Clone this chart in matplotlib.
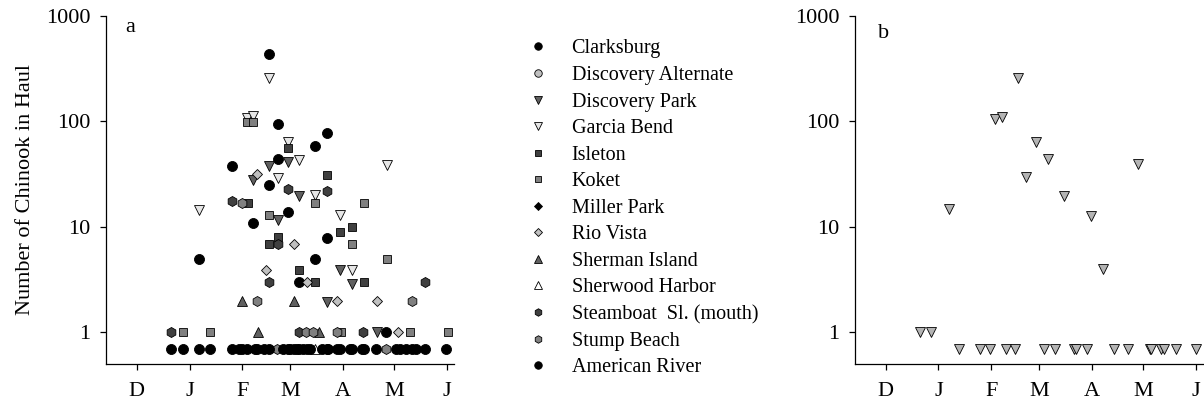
import numpy as np
import matplotlib
matplotlib.use('Agg')
import matplotlib.pyplot as plt
from matplotlib.lines import Line2D

plt.rcParams['font.family'] = ['Liberation Serif', 'DejaVu Serif']

# days counted from 1 December; a zero catch is drawn just under the "1" tick
month_days = [0, 31, 62, 90, 121, 151, 182]
month_labels = ['D', 'J', 'F', 'M', 'A', 'M', 'J']
ZERO_AT = 0.7

# panel a, one pair of arrays per site
clarksburg_d = [77.7, 82.6, 111.4, 104.6, 55.9, 82.6, 77.7, 88.6, 68.5, 111.4, 36.8, 104.6, 95.4, 146.4]
clarksburg_n = [434, 95, 78, 58, 38, 44, 24.7, 13.8, 10.9, 7.9, 5.0, 5.0, 3.0, 1]

disc_alt_d = []
disc_alt_n = []

disc_park_d = [77.7, 88.6, 68.5, 95.4, 82.6, 119.2, 126.4, 111.4, 141]
disc_park_n = [38, 41.5, 27.6, 19.5, 11.7, 3.93, 2.9, 1.94, 1]

garcia_d = [77.7, 64.6, 68.5, 88.6, 95.4, 147, 82.6, 104.6, 36.8, 119.2, 126.4]
garcia_n = [260, 107, 113, 64, 43, 39, 29, 19.9, 14.3, 12.9, 3.93]

isleton_d = [88.6, 111.4, 65, 126.4, 119.2, 82.6, 77.7, 95.4, 104.6, 133.2]
isleton_n = [56, 31, 16.8, 10, 8.9, 8.0, 6.9, 3.93, 3, 3]

koket_d = [64.6, 68.5, 104.6, 133.2, 77.7, 126.4, 147, 27.3, 42.8, 119.6, 160.4, 182.4]
koket_n = [98, 98, 16.8, 16.8, 12.9, 6.9, 5.0, 1, 1, 1, 1, 1]

miller_d = []
miller_n = []

rio_d = [70.5, 92.3, 75.7, 99.7, 117.2, 141, 153.2]
rio_n = [32, 6.9, 3.93, 3, 2, 2, 1]

sherman_d = [61.7, 92.3, 71, 107]
sherman_n = [2, 2, 1, 1]

sherwood_d = [104.6]
sherwood_n = [0]

steamboat_d = [88.6, 111.4, 55.9, 82.6, 77.7, 168.8, 19.9, 95.2, 132.8]
steamboat_n = [22.7, 21.8, 17.6, 6.9, 3.0, 3, 1, 1, 1]

stump_d = [61.7, 70.5, 161.6, 99.3, 103.2, 117.2, 82.5, 146.4]
stump_n = [16.8, 2, 2, 1, 1, 1, 0, 0]

american_d = [19.9, 27, 36.8, 42.8, 55.9, 60, 61.7, 64.7, 69.5, 70.5, 74.4, 77.7, 86, 88.6, 90,
              92.3, 93.9, 95.4, 97.7, 99.7, 101.6, 108.5, 111.4, 112.3, 117.6, 119.2, 125, 126.4,
              132.4, 133.2, 140.6, 152.3, 154.2, 158.1, 161.6, 163.6, 168.8, 181.5]
american_n = [0] * len(american_d)

# panel b
garcia_b_d = [20, 26.8, 37, 42.9, 55.6, 61.5, 64.4, 68.5, 70.9, 75.7, 77.7, 82.6, 88.5, 92.8, 95.2, 99.6,
              104.6, 110.4, 111.4, 118.3, 120.7, 127.2, 134.1, 142.3, 148.3, 154.8, 155.8, 161.6, 163,
              170.1, 182.2]
garcia_b_n = [1, 1, 14.8, 0, 0, 0, 105, 111, 0, 0, 256, 29.5, 64, 0, 44, 0,
              19.8, 0, 0, 0, 12.8, 4.0, 0, 0, 39.5, 0, 0, 0, 0, 0, 0]

# name, days, counts, marker, face colour, marker size
sites = [
    ('Clarksburg', clarksburg_d, clarksburg_n, 'o', 'black', 7.2),
    ('Discovery Alternate', disc_alt_d, disc_alt_n, 'o', '#c0c0c0', 7.2),
    ('Discovery Park', disc_park_d, disc_park_n, 'v', '#606060', 7.2),
    ('Garcia Bend', garcia_d, garcia_n, 'v', '#e6e6e6', 7.2),
    ('Isleton', isleton_d, isleton_n, 's', '#404040', 6.4),
    ('Koket', koket_d, koket_n, 's', '#808080', 6.4),
    ('Miller Park', miller_d, miller_n, 'D', 'black', 5.6),
    ('Rio Vista', rio_d, rio_n, 'D', '#c0c0c0', 5.6),
    ('Sherman Island', sherman_d, sherman_n, '^', '#606060', 7.2),
    ('Sherwood Harbor', sherwood_d, sherwood_n, '^', 'white', 7.2),
    ('Steamboat  Sl. (mouth)', steamboat_d, steamboat_n, 'h', '#404040', 7.2),
    ('Stump Beach', stump_d, stump_n, 'h', '#808080', 7.2),
    ('American River', american_d, american_n, 'o', 'black', 7.2),
]


def shown(n):
    n = np.asarray(n, dtype=float)
    return np.where(n == 0, ZERO_AT, n)


def style(ax):
    ax.set_yscale('log')
    ax.set_ylim(0.5, 1000)
    ax.set_xlim(-18, 186)
    ax.set_yticks([1, 10, 100, 1000])
    ax.set_yticklabels(['1', '10', '100', '1000'])
    ax.yaxis.set_minor_locator(matplotlib.ticker.NullLocator())
    ax.set_xticks(month_days)
    ax.set_xticklabels(month_labels)
    ax.spines['top'].set_visible(False)
    ax.spines['right'].set_visible(False)
    for s in ['left', 'bottom']:
        ax.spines[s].set_linewidth(0.9)
    ax.tick_params(axis='both', direction='out', length=4, width=0.9, labelsize=16)
    ax.tick_params(axis='y', pad=7)
    ax.tick_params(axis='x', pad=9)


fig = plt.figure(figsize=(12.04, 4.07), dpi=100)
ax1 = fig.add_axes([0.088, 0.1057, 0.289, 0.855])
ax2 = fig.add_axes([0.710, 0.1057, 0.289, 0.855])

handles = []
for name, d, n, m, c, ms in sites:
    ax1.plot(d, shown(n), linestyle='none', marker=m, markersize=ms, markerfacecolor=c,
             markeredgecolor='black', markeredgewidth=0.6, clip_on=False)
    handles.append(Line2D([], [], linestyle='none', marker=m, markersize=ms * 0.75,
                          markerfacecolor=c, markeredgecolor='black', markeredgewidth=0.6, label=name))

ax2.plot(garcia_b_d, shown(garcia_b_n), linestyle='none', marker='v', markersize=7.2,
         markerfacecolor='#b4b4b4', markeredgecolor='black', markeredgewidth=0.6, clip_on=False)

style(ax1)
style(ax2)
ax1.set_ylabel('Number of Chinook in Haul', fontsize=16, labelpad=8)
ax1.text(0.069, 0.968, 'a', transform=ax1.transAxes, fontsize=16, ha='center', va='center')
ax2.text(0.083, 0.951, 'b', transform=ax2.transAxes, fontsize=16, ha='center', va='center')

fig.legend(handles=handles, loc='upper left', bbox_to_anchor=(0.422, 0.928), frameon=False,
           fontsize=14.5, borderpad=0, handlelength=2.0, handletextpad=0.65, labelspacing=0.37)

fig.savefig('out.png', dpi=100)
